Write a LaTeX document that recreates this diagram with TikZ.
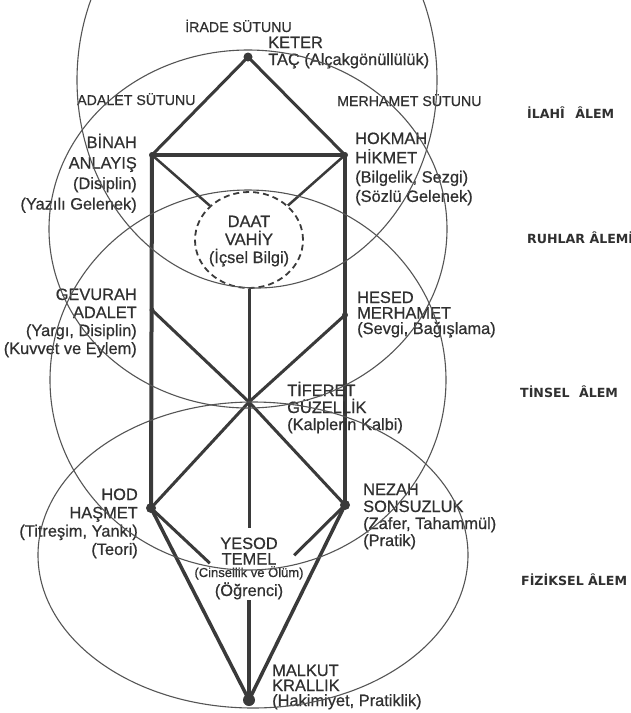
\documentclass[tikz,border=0pt]{standalone}
\usepackage{fontspec}
\setmainfont{Liberation Sans}
\newfontfamily\lblfont{Liberation Sans}[FakeBold=0.6]
\newfontfamily\worldfont{DejaVu Sans}
\usetikzlibrary{shapes.geometric,calc}
\definecolor{ln}{HTML}{3A3A3A}
\definecolor{orbc}{HTML}{555555}
\definecolor{txt}{HTML}{303030}
\newcommand\labL[2]{\vtop{\baselineskip=#1\lineskiplimit=-100pt\lineskip=0pt\halign{##\hfil\cr#2\crcr}}}
\newcommand\labR[2]{\vtop{\baselineskip=#1\lineskiplimit=-100pt\lineskip=0pt\halign{\hfil##\cr#2\crcr}}}
\newcommand\labC[2]{\vtop{\baselineskip=#1\lineskiplimit=-100pt\lineskip=0pt\halign{\hfil##\hfil\cr#2\crcr}}}
\tikzset{
  lbl/.style={font=\lblfont\fontsize{16.4}{19}\selectfont, text=txt, inner sep=0pt},
  colname/.style={font=\lblfont\fontsize{14.2}{16}\selectfont, text=txt, inner sep=0pt, anchor=base west},
  world/.style={font=\worldfont\bfseries\fontsize{12.6}{15}\selectfont, text=txt, inner sep=0pt, anchor=base west},
  treeline/.style={draw=ln, line width=3pt},
  orb/.style={draw=orbc, line width=1.1pt},
  sefdot/.style={circle, fill=ln, inner sep=0pt}
}
\begin{document}
\begin{tikzpicture}[x=1pt,y=-1pt]
\useasboundingbox (0,0) rectangle (631,713);
\fill[white] (0,0) rectangle (631,713);

% tree points
\node[sefdot, minimum size=9pt] (K) at (248,57) {};
\node[sefdot, minimum size=6pt] (B) at (152,155) {};
\node[sefdot, minimum size=6pt] (H) at (345,155) {};
\node[sefdot, minimum size=5pt] (G) at (152,310) {};
\node[sefdot, minimum size=6pt] (Hs) at (345,315) {};
\coordinate (T) at (249,402);
\node[sefdot, minimum size=10pt] (Hod) at (151,508) {};
\node[sefdot, minimum size=10pt] (N) at (345,505) {};
\node[sefdot, minimum size=12pt] (M) at (249,700) {};
\coordinate (yt) at (249,528);
\coordinate (yb) at (249,600);
\node[draw=ln, ellipse, line width=1.8pt, dash pattern=on 6pt off 4pt, minimum width=108pt, minimum height=96pt, inner sep=0pt] (D) at (249,240) {};

% connectors
\draw[treeline] (K.center) -- (B.center);
\draw[treeline] (K.center) -- (H.center);
\draw[treeline, line width=4pt] (B.center) -- (H.center);
\draw[treeline, line width=4pt] (B.center) -- (Hod.center);
\draw[treeline, line width=3.5pt] (H.center) -- (N.center);
\draw[treeline, line width=2.5pt] (B.center) -- (D);
\draw[treeline, line width=2.5pt] (H.center) -- (D);
\draw[treeline] (D.south) -- (T) -- (yt);
\draw[treeline] (G.center) -- (T);
\draw[treeline] (Hs.center) -- (T);
\draw[treeline] (T) -- (Hod.center);
\draw[treeline] (T) -- (N.center);
\draw[treeline] (Hod.center) -- ($(Hod.center)!0.6!(yb)$);
\draw[treeline] (N.center) -- ($(N.center)!0.53!(yb)$);
\draw[treeline, line width=3.5pt] (Hod.center) -- (M.center);
\draw[treeline, line width=3.5pt] (N.center) -- (M.center);
\draw[treeline, line width=3.5pt] (yb) -- (M.center);

% labels
\node[colname, anchor=base] (irade) at (238.5,32) {İRADE SÜTUNU};
\node[colname] (adalet) at (77,105) {ADALET SÜTUNU};
\node[colname] (merhamet) at (337,106) {MERHAMET SÜTUNU};

\node[lbl, anchor=base west] (Kl) at (268,48) {\labL{17pt}{KETER\cr TAÇ (Alçakgönüllülük)}};
\node[lbl, anchor=base east] (Bl) at (137,148) {\labR{20.5pt}{BİNAH\cr ANLAYIŞ\cr (Disiplin)\cr (Yazılı Gelenek)}};
\node[lbl, anchor=base west] (Hl) at (355,144) {\labL{19.3pt}{HOKMAH\cr HİKMET\cr (Bilgelik, Sezgi)\cr (Sözlü Gelenek)}};
\node[lbl, anchor=base] (Dl) at (249,227) {\labC{18pt}{DAAT\cr VAHİY\cr (İçsel Bilgi)}};
\node[lbl, anchor=base east] (Gl) at (137,300) {\labR{18pt}{GEVURAH\cr ADALET\cr (Yargı, Disiplin)\cr (Kuvvet ve Eylem)}};
\node[lbl, anchor=base west] (Hsl) at (357,303) {\labL{15.5pt}{HESED\cr MERHAMET\cr (Sevgi, Bağışlama)}};
\node[lbl, anchor=base west] (Tl) at (287,396) {\labL{17pt}{TİFERET\cr GÜZELLİK\cr (Kalplerin Kalbi)}};
\node[lbl, anchor=base east] (Hodl) at (138,500) {\labR{18.3pt}{HOD\cr HAŞMET\cr (Titreşim, Yankı)\cr (Teori)}};
\node[lbl, anchor=base west] (Nl) at (363,495) {\labL{17pt}{NEZAH\cr SONSUZLUK\cr (Zafer, Tahammül)\cr (Pratik)}};
\node[lbl, anchor=base] (Yl) at (249,549) {\labC{15.5pt}{YESOD\cr TEMEL}};
\node[lbl, anchor=base, font=\lblfont\fontsize{13}{15}\selectfont] (Yl2) at (249,577) {(Cinsellik ve Ölüm)};
\node[lbl, anchor=base] (Yl3) at (249,596) {(Öğrenci)};
\node[lbl, anchor=base west] (Ml) at (272,676) {\labL{15pt}{MALKUT\cr KRALLIK\cr (Hakimiyet, Pratiklik)}};

\node[world] (w1) at (527,118) {İLAHÎ\hspace{6pt} ÂLEM};
\node[world] (w2) at (527,243) {RUHLAR ÂLEMİ};
\node[world] (w3) at (520,397) {TİNSEL\hspace{5pt} ÂLEM};
\node[world] (w4) at (521,585) {FİZİKSEL ÂLEM};

% worlds
\begin{scope}
\clip (0,0) rectangle (631,713);
\draw[orb] (257,80) ellipse [x radius=180pt, y radius=208pt];
\draw[orb] (248,229) ellipse [x radius=199pt, y radius=179pt];
\draw[orb] (248,380) ellipse [x radius=198pt, y radius=190pt];
\draw[orb] (253,555) ellipse [x radius=215pt, y radius=153pt];
\end{scope}
\end{tikzpicture}
\end{document}
